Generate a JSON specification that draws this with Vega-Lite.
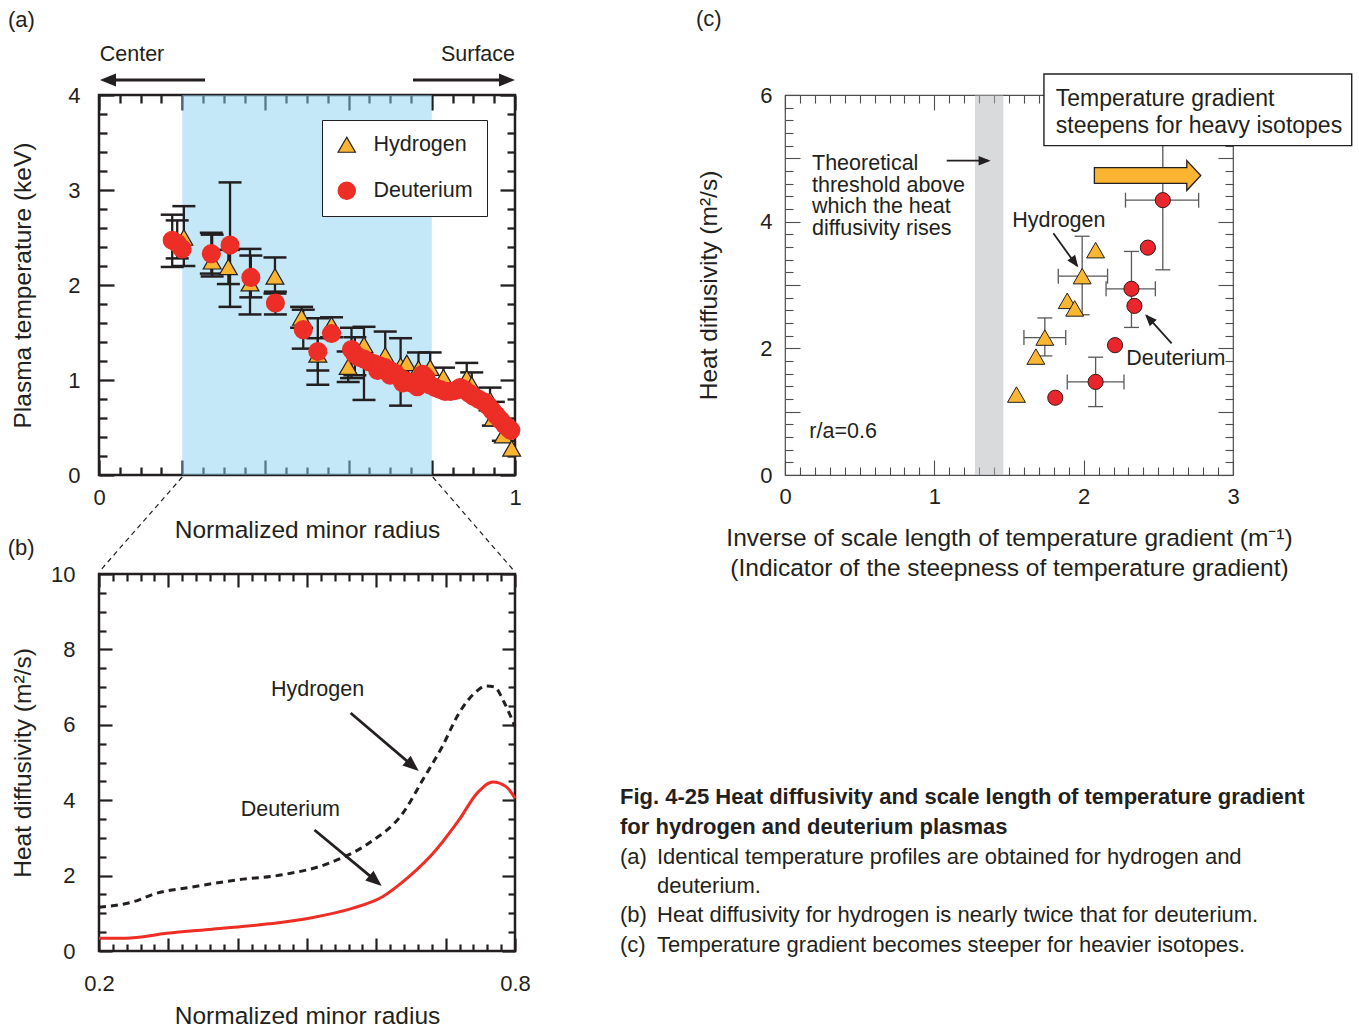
{
  "$schema": "https://vega.github.io/schema/vega-lite/v6.json",
  "background": "white",
  "padding": {"left": 6, "top": 7, "right": 4, "bottom": 2},
  "config": {
    "view": {"stroke": null},
    "font": "Liberation Sans",
    "axis": {"labelFont": "Liberation Sans", "titleFont": "Liberation Sans", "labelColor": "#231f20", "titleColor": "#231f20", "titleFontWeight": "normal", "grid": false, "domain": false, "labelFlush": false, "labelOverlap": false},
    "text": {"font": "Liberation Sans", "fill": "#231f20"}
  },
  "datasets": {
    "tempA": [
      {"species": "Hydrogen", "x": 0.204, "y": 2.50, "lo": 2.20, "hi": 2.83},
      {"species": "Hydrogen", "x": 0.272, "y": 2.25, "lo": 2.09, "hi": 2.53},
      {"species": "Hydrogen", "x": 0.311, "y": 2.19, "lo": 2.01, "hi": 2.37},
      {"species": "Hydrogen", "x": 0.363, "y": 2.02, "lo": 1.69, "hi": 2.38},
      {"species": "Hydrogen", "x": 0.423, "y": 2.09, "lo": 1.91, "hi": 2.29},
      {"species": "Hydrogen", "x": 0.487, "y": 1.66, "lo": 1.55, "hi": 1.77},
      {"species": "Hydrogen", "x": 0.526, "y": 1.27, "lo": 1.10, "hi": 1.44},
      {"species": "Hydrogen", "x": 0.559, "y": 1.58, "lo": 1.45, "hi": 1.66},
      {"species": "Hydrogen", "x": 0.599, "y": 1.14, "lo": 0.98, "hi": 1.30},
      {"species": "Hydrogen", "x": 0.637, "y": 1.37, "lo": 0.79, "hi": 1.56},
      {"species": "Hydrogen", "x": 0.688, "y": 1.26, "lo": 1.05, "hi": 1.51},
      {"species": "Hydrogen", "x": 0.725, "y": 1.15, "lo": 0.73, "hi": 1.44},
      {"species": "Hydrogen", "x": 0.740, "y": 1.18},
      {"species": "Hydrogen", "x": 0.768, "y": 1.12, "lo": 0.95, "hi": 1.29},
      {"species": "Hydrogen", "x": 0.796, "y": 1.13, "lo": 0.98, "hi": 1.29},
      {"species": "Hydrogen", "x": 0.828, "y": 1.03, "lo": 0.90, "hi": 1.13},
      {"species": "Hydrogen", "x": 0.884, "y": 1.02, "lo": 0.88, "hi": 1.18},
      {"species": "Hydrogen", "x": 0.896, "y": 0.95, "lo": 0.82, "hi": 1.08},
      {"species": "Hydrogen", "x": 0.940, "y": 0.79, "lo": 0.68, "hi": 0.92},
      {"species": "Hydrogen", "x": 0.948, "y": 0.60, "lo": 0.52, "hi": 0.77},
      {"species": "Hydrogen", "x": 0.972, "y": 0.42, "lo": 0.36, "hi": 0.55},
      {"species": "Hydrogen", "x": 0.992, "y": 0.28},
      {"species": "Deuterium", "x": 0.176, "y": 2.47, "lo": 2.19, "hi": 2.74},
      {"species": "Deuterium", "x": 0.188, "y": 2.44, "lo": 2.28, "hi": 2.68},
      {"species": "Deuterium", "x": 0.200, "y": 2.38},
      {"species": "Deuterium", "x": 0.270, "y": 2.33, "lo": 2.12, "hi": 2.55},
      {"species": "Deuterium", "x": 0.315, "y": 2.42, "lo": 1.77, "hi": 3.08},
      {"species": "Deuterium", "x": 0.365, "y": 2.08, "lo": 1.87, "hi": 2.31},
      {"species": "Deuterium", "x": 0.424, "y": 1.81, "lo": 1.69, "hi": 1.93},
      {"species": "Deuterium", "x": 0.491, "y": 1.53, "lo": 1.33, "hi": 1.74},
      {"species": "Deuterium", "x": 0.526, "y": 1.30, "lo": 0.95, "hi": 1.65},
      {"species": "Deuterium", "x": 0.559, "y": 1.49},
      {"species": "Deuterium", "x": 0.607, "y": 1.32, "lo": 1.02, "hi": 1.55},
      {"species": "Deuterium", "x": 0.615, "y": 1.27, "lo": 1.05, "hi": 1.45},
      {"species": "Deuterium", "x": 0.625, "y": 1.24},
      {"species": "Deuterium", "x": 0.637, "y": 1.22},
      {"species": "Deuterium", "x": 0.650, "y": 1.19},
      {"species": "Deuterium", "x": 0.662, "y": 1.17},
      {"species": "Deuterium", "x": 0.670, "y": 1.10},
      {"species": "Deuterium", "x": 0.675, "y": 1.15},
      {"species": "Deuterium", "x": 0.688, "y": 1.13},
      {"species": "Deuterium", "x": 0.700, "y": 1.05},
      {"species": "Deuterium", "x": 0.700, "y": 1.10},
      {"species": "Deuterium", "x": 0.712, "y": 1.07},
      {"species": "Deuterium", "x": 0.725, "y": 1.02},
      {"species": "Deuterium", "x": 0.730, "y": 0.97},
      {"species": "Deuterium", "x": 0.738, "y": 0.99},
      {"species": "Deuterium", "x": 0.750, "y": 0.97},
      {"species": "Deuterium", "x": 0.762, "y": 0.98},
      {"species": "Deuterium", "x": 0.765, "y": 0.93},
      {"species": "Deuterium", "x": 0.778, "y": 1.06},
      {"species": "Deuterium", "x": 0.785, "y": 1.03},
      {"species": "Deuterium", "x": 0.795, "y": 0.95},
      {"species": "Deuterium", "x": 0.808, "y": 0.92},
      {"species": "Deuterium", "x": 0.820, "y": 0.90},
      {"species": "Deuterium", "x": 0.832, "y": 0.88},
      {"species": "Deuterium", "x": 0.845, "y": 0.88},
      {"species": "Deuterium", "x": 0.857, "y": 0.89},
      {"species": "Deuterium", "x": 0.868, "y": 0.92},
      {"species": "Deuterium", "x": 0.878, "y": 0.90},
      {"species": "Deuterium", "x": 0.890, "y": 0.86},
      {"species": "Deuterium", "x": 0.900, "y": 0.83},
      {"species": "Deuterium", "x": 0.912, "y": 0.80},
      {"species": "Deuterium", "x": 0.924, "y": 0.77},
      {"species": "Deuterium", "x": 0.935, "y": 0.73},
      {"species": "Deuterium", "x": 0.945, "y": 0.68},
      {"species": "Deuterium", "x": 0.955, "y": 0.63},
      {"species": "Deuterium", "x": 0.965, "y": 0.58},
      {"species": "Deuterium", "x": 0.975, "y": 0.53},
      {"species": "Deuterium", "x": 0.985, "y": 0.49},
      {"species": "Deuterium", "x": 0.990, "y": 0.47}
    ],
    "diffB": [
      {"species": "Hydrogen", "x": 0.200, "y": 1.16},
      {"species": "Hydrogen", "x": 0.257, "y": 1.35},
      {"species": "Hydrogen", "x": 0.276, "y": 1.49},
      {"species": "Hydrogen", "x": 0.339, "y": 1.71},
      {"species": "Hydrogen", "x": 0.397, "y": 1.88},
      {"species": "Hydrogen", "x": 0.464, "y": 2.02},
      {"species": "Hydrogen", "x": 0.532, "y": 2.33},
      {"species": "Hydrogen", "x": 0.589, "y": 2.86},
      {"species": "Hydrogen", "x": 0.638, "y": 3.65},
      {"species": "Hydrogen", "x": 0.667, "y": 4.54},
      {"species": "Hydrogen", "x": 0.695, "y": 5.42},
      {"species": "Hydrogen", "x": 0.719, "y": 6.30},
      {"species": "Hydrogen", "x": 0.744, "y": 6.88},
      {"species": "Hydrogen", "x": 0.758, "y": 7.03},
      {"species": "Hydrogen", "x": 0.770, "y": 7.01},
      {"species": "Hydrogen", "x": 0.785, "y": 6.57},
      {"species": "Hydrogen", "x": 0.800, "y": 5.95},
      {"species": "Deuterium", "x": 0.200, "y": 0.34},
      {"species": "Deuterium", "x": 0.238, "y": 0.34},
      {"species": "Deuterium", "x": 0.298, "y": 0.47},
      {"species": "Deuterium", "x": 0.363, "y": 0.58},
      {"species": "Deuterium", "x": 0.445, "y": 0.72},
      {"species": "Deuterium", "x": 0.503, "y": 0.87},
      {"species": "Deuterium", "x": 0.565, "y": 1.13},
      {"species": "Deuterium", "x": 0.609, "y": 1.44},
      {"species": "Deuterium", "x": 0.647, "y": 1.97},
      {"species": "Deuterium", "x": 0.686, "y": 2.68},
      {"species": "Deuterium", "x": 0.719, "y": 3.47},
      {"species": "Deuterium", "x": 0.746, "y": 4.20},
      {"species": "Deuterium", "x": 0.768, "y": 4.48},
      {"species": "Deuterium", "x": 0.787, "y": 4.36},
      {"species": "Deuterium", "x": 0.800, "y": 4.05}
    ],
    "ptsC": [
      {"species": "Hydrogen", "x": 1.55, "y": 1.27},
      {"species": "Hydrogen", "x": 1.68, "y": 1.87},
      {"species": "Hydrogen", "x": 1.74, "y": 2.17, "xlo": 1.60, "xhi": 1.88, "ylo": 1.88, "yhi": 2.48},
      {"species": "Hydrogen", "x": 1.89, "y": 2.75},
      {"species": "Hydrogen", "x": 1.94, "y": 2.63},
      {"species": "Hydrogen", "x": 1.99, "y": 3.14, "xlo": 1.83, "xhi": 2.16, "ylo": 2.53, "yhi": 3.77},
      {"species": "Hydrogen", "x": 2.08, "y": 3.55},
      {"species": "Deuterium", "x": 1.81, "y": 1.22},
      {"species": "Deuterium", "x": 2.08, "y": 1.47, "xlo": 1.89, "xhi": 2.27, "ylo": 1.08, "yhi": 1.86},
      {"species": "Deuterium", "x": 2.21, "y": 2.05},
      {"species": "Deuterium", "x": 2.32, "y": 2.94, "xlo": 2.15, "xhi": 2.48, "ylo": 2.33, "yhi": 3.53},
      {"species": "Deuterium", "x": 2.34, "y": 2.67},
      {"species": "Deuterium", "x": 2.43, "y": 3.59},
      {"species": "Deuterium", "x": 2.53, "y": 4.34, "xlo": 2.28, "xhi": 2.77, "ylo": 3.24, "yhi": 5.3}
    ]
  },
  "columns": 2,
  "spacing": {"row": 99, "column": 270},
  "bounds": "flush",
  "concat": [
    {
      "width": 416, "height": 380,
      "view": {"stroke": "#231f20", "strokeWidth": 2.5},
      "resolve": {"axis": {"x": "independent", "y": "independent"}},
      "layer": [
        {
          "data": {"values": [{"x": 0.2, "x2": 0.8}]},
          "mark": {"type": "rect", "fill": "#8bd1f1", "opacity": 0.5},
          "encoding": {
            "x": {"field": "x", "type": "quantitative", "scale": {"domain": [0, 1], "nice": false, "zero": false}, "axis": null},
            "x2": {"field": "x2"}
          }
        },
        {
          "data": {"name": "tempA"},
          "transform": [{"filter": "isValid(datum.lo)"}],
          "mark": {"type": "rule", "stroke": "#231f20", "strokeWidth": 2.3},
          "encoding": {
            "x": {"field": "x", "type": "quantitative", "scale": {"domain": [0, 1], "nice": false, "zero": false},
              "axis": {"orient": "top", "values": [0,0.05,0.1,0.15,0.2,0.25,0.3,0.35,0.4,0.45,0.5,0.55,0.6,0.65,0.7,0.75,0.8,0.85,0.9,0.95,1], "labels": false, "title": null, "tickColor": "#231f20", "tickWidth": 2.3,
                "tickSize": {"condition": {"test": "abs(datum.value*5-round(datum.value*5))<0.001", "value": -15}, "value": -8}}},
            "y": {"field": "lo", "type": "quantitative", "scale": {"domain": [0, 4], "nice": false, "zero": false},
              "axis": {"orient": "right", "values": [0,0.2,0.4,0.6,0.8,1,1.2,1.4,1.6,1.8,2,2.2,2.4,2.6,2.8,3,3.2,3.4,3.6,3.8,4], "labels": false, "title": null, "tickColor": "#231f20", "tickWidth": 2.3,
                "tickSize": {"condition": {"test": "abs(datum.value-round(datum.value))<0.001", "value": -15}, "value": -8}}},
            "y2": {"field": "hi"}
          }
        },
        {
          "data": {"name": "tempA"},
          "transform": [{"filter": "isValid(datum.lo)"}],
          "mark": {"type": "tick", "orient": "horizontal", "size": 23, "thickness": 2.5, "color": "#231f20", "opacity": 1},
          "encoding": {
            "x": {"field": "x", "type": "quantitative", "scale": {"domain": [0, 1], "nice": false, "zero": false}, "axis": null},
            "y": {"field": "lo", "type": "quantitative", "scale": {"domain": [0, 4], "nice": false, "zero": false}, "axis": null}
          }
        },
        {
          "data": {"name": "tempA"},
          "transform": [{"filter": "isValid(datum.hi)"}],
          "mark": {"type": "tick", "orient": "horizontal", "size": 23, "thickness": 2.5, "color": "#231f20", "opacity": 1},
          "encoding": {
            "x": {"field": "x", "type": "quantitative", "scale": {"domain": [0, 1], "nice": false, "zero": false}, "axis": null},
            "y": {"field": "hi", "type": "quantitative", "scale": {"domain": [0, 4], "nice": false, "zero": false}, "axis": null}
          }
        },
        {
          "data": {"name": "tempA"},
          "mark": {"type": "point", "filled": true, "opacity": 1, "size": 320, "strokeWidth": 1.2},
          "encoding": {
            "x": {"field": "x", "type": "quantitative", "scale": {"domain": [0, 1], "nice": false, "zero": false},
              "axis": {"orient": "bottom", "values": [0,0.05,0.1,0.15,0.2,0.25,0.3,0.35,0.4,0.45,0.5,0.55,0.6,0.65,0.7,0.75,0.8,0.85,0.9,0.95,1], "tickColor": "#231f20", "tickWidth": 2.3,
                "tickSize": {"condition": {"test": "abs(datum.value*5-round(datum.value*5))<0.001", "value": -15}, "value": -8},
                "labelExpr": "datum.value==0?'0':(datum.value==1?'1':'')", "labelFontSize": 22, "labelPadding": 27,
                "title": "Normalized minor radius", "titleFontSize": 24.5, "titlePadding": 3}},
            "y": {"field": "y", "type": "quantitative", "scale": {"domain": [0, 4], "nice": false, "zero": false},
              "axis": {"orient": "left", "values": [0,0.2,0.4,0.6,0.8,1,1.2,1.4,1.6,1.8,2,2.2,2.4,2.6,2.8,3,3.2,3.4,3.6,3.8,4], "tickColor": "#231f20", "tickWidth": 2.3,
                "tickSize": {"condition": {"test": "abs(datum.value-round(datum.value))<0.001", "value": -15}, "value": -8},
                "labelExpr": "abs(datum.value-round(datum.value))<0.001?''+round(datum.value):''", "labelFontSize": 22, "labelPadding": 34,
                "title": "Plasma temperature (keV)", "titleFontSize": 24.5, "titlePadding": 32}},
            "shape": {"field": "species", "type": "nominal", "scale": {"domain": ["Hydrogen", "Deuterium"], "range": ["triangle-up", "circle"]},
              "legend": {"title": null, "orient": "none", "legendX": 223, "legendY": 25, "strokeColor": "#231f20", "fillColor": "white", "padding": 14, "rowPadding": 23, "labelFontSize": 21.5, "labelFont": "Liberation Sans", "labelColor": "#231f20", "symbolSize": 300, "labelOffset": 16, "symbolStrokeWidth": 1.2, "symbolOpacity": 1}},
            "fill": {"field": "species", "type": "nominal", "scale": {"domain": ["Hydrogen", "Deuterium"], "range": ["#fbb430", "#ec2e26"]},
              "legend": {"title": null, "orient": "none", "legendX": 223, "legendY": 25, "strokeColor": "#231f20", "fillColor": "white", "padding": 14, "rowPadding": 23, "labelFontSize": 21.5, "labelFont": "Liberation Sans", "labelColor": "#231f20", "symbolSize": 300, "labelOffset": 16, "symbolStrokeWidth": 1.2, "symbolOpacity": 1}},
            "stroke": {"field": "species", "type": "nominal", "scale": {"domain": ["Hydrogen", "Deuterium"], "range": ["#231f20", "#ec2e26"]},
              "legend": {"title": null, "orient": "none", "legendX": 223, "legendY": 25, "strokeColor": "#231f20", "fillColor": "white", "padding": 14, "rowPadding": 23, "labelFontSize": 21.5, "labelFont": "Liberation Sans", "labelColor": "#231f20", "symbolSize": 300, "labelOffset": 16, "symbolStrokeWidth": 1.2, "symbolOpacity": 1}}
          }
        },
        {
          "data": {"values": [{"x": 0.2548, "y": 4.158, "x2": 0.024, "y2": 4.158}, {"x": 0.7548, "y": 4.158, "x2": 0.978, "y2": 4.158}]},
          "mark": {"type": "rule", "strokeWidth": 2.8, "color": "#231f20"},
          "encoding": {
            "x": {"field": "x", "type": "quantitative", "scale": {"domain": [0, 1], "nice": false, "zero": false}, "axis": null},
            "y": {"field": "y", "type": "quantitative", "scale": {"domain": [0, 4], "nice": false, "zero": false}, "axis": null},
            "x2": {"field": "x2"}, "y2": {"field": "y2"}
          }
        },
        {
          "data": {"values": [{"x": 0.0024, "y": 4.158}]},
          "mark": {"type": "point", "shape": "M0,0L-0.8,2L0.8,2Z", "filled": true, "color": "#231f20", "opacity": 1, "size": 256, "angle": 270},
          "encoding": {
            "x": {"field": "x", "type": "quantitative", "scale": {"domain": [0, 1], "nice": false, "zero": false}, "axis": null},
            "y": {"field": "y", "type": "quantitative", "scale": {"domain": [0, 4], "nice": false, "zero": false}, "axis": null}
          }
        },
        {
          "data": {"values": [{"x": 1.0, "y": 4.158}]},
          "mark": {"type": "point", "shape": "M0,0L-0.8,2L0.8,2Z", "filled": true, "color": "#231f20", "opacity": 1, "size": 256, "angle": 90},
          "encoding": {
            "x": {"field": "x", "type": "quantitative", "scale": {"domain": [0, 1], "nice": false, "zero": false}, "axis": null},
            "y": {"field": "y", "type": "quantitative", "scale": {"domain": [0, 4], "nice": false, "zero": false}, "axis": null}
          }
        },
        {
          "data": {"values": [{"x": 0.0793, "y": 4.421, "t": "Center"}, {"x": 0.911, "y": 4.421, "t": "Surface"}]},
          "mark": {"type": "text", "align": "center", "baseline": "middle", "fontSize": 21.5, "fill": "#231f20"},
          "encoding": {
            "x": {"field": "x", "type": "quantitative", "scale": {"domain": [0, 1], "nice": false, "zero": false}, "axis": null},
            "y": {"field": "y", "type": "quantitative", "scale": {"domain": [0, 4], "nice": false, "zero": false}, "axis": null},
            "text": {"field": "t"}
          }
        },
        {
          "data": {"values": [{"x": -0.2188, "y": 4.789, "t": "(a)"}]},
          "mark": {"type": "text", "align": "left", "baseline": "middle", "fontSize": 22, "fill": "#231f20"},
          "encoding": {
            "x": {"field": "x", "type": "quantitative", "scale": {"domain": [0, 1], "nice": false, "zero": false}, "axis": null},
            "y": {"field": "y", "type": "quantitative", "scale": {"domain": [0, 4], "nice": false, "zero": false}, "axis": null},
            "text": {"field": "t"}
          }
        }
      ]
    },
    {
      "width": 448, "height": 380,
      "view": {"stroke": "#4d4d4f", "strokeWidth": 1.2},
      "resolve": {"axis": {"x": "independent", "y": "independent"}},
      "layer": [
        {
          "data": {"values": [{"x": 1.272, "x2": 1.462}]},
          "mark": {"type": "rect", "fill": "#b3b5b8", "opacity": 0.5},
          "encoding": {
            "x": {"field": "x", "type": "quantitative", "scale": {"domain": [0, 3], "nice": false, "zero": false}, "axis": null},
            "x2": {"field": "x2"}
          }
        },
        {
          "data": {"name": "ptsC"},
          "transform": [{"filter": "isValid(datum.ylo)"}],
          "mark": {"type": "rule", "stroke": "#58595b", "strokeWidth": 1.3},
          "encoding": {
            "x": {"field": "x", "type": "quantitative", "scale": {"domain": [0, 3], "nice": false, "zero": false}, "axis": null},
            "y": {"field": "ylo", "type": "quantitative", "scale": {"domain": [0, 6], "nice": false, "zero": false}, "axis": null},
            "y2": {"field": "yhi"}
          }
        },
        {
          "data": {"name": "ptsC"},
          "transform": [{"filter": "isValid(datum.xlo)"}],
          "mark": {"type": "rule", "stroke": "#58595b", "strokeWidth": 1.3},
          "encoding": {
            "x": {"field": "xlo", "type": "quantitative", "scale": {"domain": [0, 3], "nice": false, "zero": false}, "axis": null},
            "x2": {"field": "xhi"},
            "y": {"field": "y", "type": "quantitative", "scale": {"domain": [0, 6], "nice": false, "zero": false}, "axis": null}
          }
        },
        {
          "data": {"name": "ptsC"},
          "transform": [{"filter": "isValid(datum.ylo)"}, {"fold": ["ylo", "yhi"], "as": ["end", "yv"]}],
          "mark": {"type": "tick", "orient": "horizontal", "size": 15, "thickness": 1.3, "color": "#58595b", "opacity": 1},
          "encoding": {
            "x": {"field": "x", "type": "quantitative", "scale": {"domain": [0, 3], "nice": false, "zero": false}, "axis": null},
            "y": {"field": "yv", "type": "quantitative", "scale": {"domain": [0, 6], "nice": false, "zero": false}, "axis": null}
          }
        },
        {
          "data": {"name": "ptsC"},
          "transform": [{"filter": "isValid(datum.xlo)"}, {"fold": ["xlo", "xhi"], "as": ["end", "xv"]}],
          "mark": {"type": "tick", "orient": "vertical", "size": 15, "thickness": 1.3, "color": "#58595b", "opacity": 1},
          "encoding": {
            "x": {"field": "xv", "type": "quantitative", "scale": {"domain": [0, 3], "nice": false, "zero": false}, "axis": null},
            "y": {"field": "y", "type": "quantitative", "scale": {"domain": [0, 6], "nice": false, "zero": false}, "axis": null}
          }
        },
        {
          "data": {"name": "ptsC"},
          "transform": [{"filter": "datum.species == 'Hydrogen'"}],
          "mark": {"type": "point", "shape": "triangle-up", "filled": true, "fill": "#fbb632", "stroke": "#231f20", "strokeWidth": 1, "opacity": 1, "size": 320},
          "encoding": {
            "x": {"field": "x", "type": "quantitative", "scale": {"domain": [0, 3], "nice": false, "zero": false},
              "axis": {"orient": "bottom", "values": [0,0.1,0.2,0.3,0.4,0.5,0.6,0.7,0.8,0.9,1,1.1,1.2,1.3,1.4,1.5,1.6,1.7,1.8,1.9,2,2.1,2.2,2.3,2.4,2.5,2.6,2.7,2.8,2.9,3], "tickColor": "#4d4d4f", "tickWidth": 1.1,
                "tickSize": {"condition": {"test": "abs(datum.value-round(datum.value))<0.001", "value": -15}, "value": -8},
                "labelExpr": "abs(datum.value-round(datum.value))<0.001?''+round(datum.value):''", "labelFontSize": 22, "labelPadding": 26,
                "title": ["Inverse of scale length of temperature gradient (m⁻¹)", "(Indicator of the steepness of temperature gradient)"], "titleFontSize": 24.5, "titleLineHeight": 30, "titlePadding": 12}},
            "y": {"field": "y", "type": "quantitative", "scale": {"domain": [0, 6], "nice": false, "zero": false},
              "axis": {"orient": "left", "values": [0,0.2,0.4,0.6,0.8,1,1.2,1.4,1.6,1.8,2,2.2,2.4,2.6,2.8,3,3.2,3.4,3.6,3.8,4,4.2,4.4,4.6,4.8,5,5.2,5.4,5.6,5.8,6], "tickColor": "#4d4d4f", "tickWidth": 1.1,
                "tickSize": {"condition": {"test": "abs(datum.value-round(datum.value))<0.001", "value": -15}, "value": -8},
                "labelExpr": "abs(datum.value/2-round(datum.value/2))<0.001?''+round(datum.value):''", "labelFontSize": 22, "labelPadding": 28,
                "title": "Heat diffusivity (m²/s)", "titleFontSize": 24.5, "titlePadding": 38}}
          }
        },
        {
          "data": {"name": "ptsC"},
          "transform": [{"filter": "datum.species == 'Deuterium'"}],
          "mark": {"type": "point", "shape": "circle", "filled": true, "fill": "#e8262b", "stroke": "#3a1a1a", "strokeWidth": 1, "opacity": 1, "size": 230},
          "encoding": {
            "x": {"field": "x", "type": "quantitative", "scale": {"domain": [0, 3], "nice": false, "zero": false},
              "axis": {"orient": "top", "values": [0,0.1,0.2,0.3,0.4,0.5,0.6,0.7,0.8,0.9,1,1.1,1.2,1.3,1.4,1.5,1.6,1.7,1.8,1.9,2,2.1,2.2,2.3,2.4,2.5,2.6,2.7,2.8,2.9,3], "labels": false, "title": null, "tickColor": "#4d4d4f", "tickWidth": 1.1,
                "tickSize": {"condition": {"test": "abs(datum.value-round(datum.value))<0.001", "value": -15}, "value": -8}}},
            "y": {"field": "y", "type": "quantitative", "scale": {"domain": [0, 6], "nice": false, "zero": false},
              "axis": {"orient": "right", "values": [0,0.2,0.4,0.6,0.8,1,1.2,1.4,1.6,1.8,2,2.2,2.4,2.6,2.8,3,3.2,3.4,3.6,3.8,4,4.2,4.4,4.6,4.8,5,5.2,5.4,5.6,5.8,6], "labels": false, "title": null, "tickColor": "#4d4d4f", "tickWidth": 1.1,
                "tickSize": {"condition": {"test": "abs(datum.value-round(datum.value))<0.001", "value": -15}, "value": -8}}}
          }
        },
        {
          "data": {"values": [{"x": 2.428, "y": 4.728}]},
          "mark": {"type": "point", "shape": "M-1,-0.148L0.737,-0.148L0.737,-0.282L1,0L0.737,0.282L0.737,0.148L-1,0.148Z", "filled": true, "fill": "#fbb431", "stroke": "#231f20", "strokeWidth": 1.3, "opacity": 1, "size": 11321},
          "encoding": {
            "x": {"field": "x", "type": "quantitative", "scale": {"domain": [0, 3], "nice": false, "zero": false}, "axis": null},
            "y": {"field": "y", "type": "quantitative", "scale": {"domain": [0, 6], "nice": false, "zero": false}, "axis": null}
          }
        },
        {
          "data": {"values": [{"x": 1.734, "x2": 3.795, "y": 5.2, "y2": 6.332}]},
          "mark": {"type": "rect", "fill": "white", "stroke": "#231f20", "strokeWidth": 1.4},
          "encoding": {
            "x": {"field": "x", "type": "quantitative", "scale": {"domain": [0, 3], "nice": false, "zero": false}, "axis": null},
            "x2": {"field": "x2"},
            "y": {"field": "y", "type": "quantitative", "scale": {"domain": [0, 6], "nice": false, "zero": false}, "axis": null},
            "y2": {"field": "y2"}
          }
        },
        {
          "data": {"values": [{"x": 1.813, "y": 5.937, "t": "Temperature gradient"}, {"x": 1.813, "y": 5.516, "t": "steepens for heavy isotopes"}]},
          "mark": {"type": "text", "align": "left", "baseline": "middle", "fontSize": 23, "fill": "#231f20"},
          "encoding": {
            "x": {"field": "x", "type": "quantitative", "scale": {"domain": [0, 3], "nice": false, "zero": false}, "axis": null},
            "y": {"field": "y", "type": "quantitative", "scale": {"domain": [0, 6], "nice": false, "zero": false}, "axis": null},
            "text": {"field": "t"}
          }
        },
        {
          "data": {"values": [
            {"x": 0.181, "y": 4.911, "t": "Theoretical"},
            {"x": 0.181, "y": 4.568, "t": "threshold above"},
            {"x": 0.181, "y": 4.227, "t": "which the heat"},
            {"x": 0.181, "y": 3.884, "t": "diffusivity rises"},
            {"x": 0.163, "y": 0.684, "t": "r/a=0.6"}
          ]},
          "mark": {"type": "text", "align": "left", "baseline": "middle", "fontSize": 21.5, "fill": "#231f20"},
          "encoding": {
            "x": {"field": "x", "type": "quantitative", "scale": {"domain": [0, 3], "nice": false, "zero": false}, "axis": null},
            "y": {"field": "y", "type": "quantitative", "scale": {"domain": [0, 6], "nice": false, "zero": false}, "axis": null},
            "text": {"field": "t"}
          }
        },
        {
          "data": {"values": [{"x": -0.596, "y": 7.2, "t": "(c)"}]},
          "mark": {"type": "text", "align": "left", "baseline": "middle", "fontSize": 22, "fill": "#231f20"},
          "encoding": {
            "x": {"field": "x", "type": "quantitative", "scale": {"domain": [0, 3], "nice": false, "zero": false}, "axis": null},
            "y": {"field": "y", "type": "quantitative", "scale": {"domain": [0, 6], "nice": false, "zero": false}, "axis": null},
            "text": {"field": "t"}
          }
        },
        {
          "data": {"values": [{"x": 1.834, "y": 4.016, "t": "Hydrogen"}, {"x": 2.617, "y": 1.832, "t": "Deuterium"}]},
          "mark": {"type": "text", "align": "center", "baseline": "middle", "fontSize": 21.5, "fill": "#231f20"},
          "encoding": {
            "x": {"field": "x", "type": "quantitative", "scale": {"domain": [0, 3], "nice": false, "zero": false}, "axis": null},
            "y": {"field": "y", "type": "quantitative", "scale": {"domain": [0, 6], "nice": false, "zero": false}, "axis": null},
            "text": {"field": "t"}
          }
        },
        {
          "data": {"values": [
            {"x": 1.083, "y": 4.963, "x2": 1.36, "y2": 4.963},
            {"x": 1.797, "y": 3.816, "x2": 1.955, "y2": 3.30},
            {"x": 2.589, "y": 2.079, "x2": 2.42, "y2": 2.52}
          ]},
          "mark": {"type": "rule", "strokeWidth": 1.8, "color": "#231f20"},
          "encoding": {
            "x": {"field": "x", "type": "quantitative", "scale": {"domain": [0, 3], "nice": false, "zero": false}, "axis": null},
            "y": {"field": "y", "type": "quantitative", "scale": {"domain": [0, 6], "nice": false, "zero": false}, "axis": null},
            "x2": {"field": "x2"}, "y2": {"field": "y2"}
          }
        },
        {
          "data": {"values": [{"x": 1.377, "y": 4.963}]},
          "mark": {"type": "point", "shape": "M0,0L-0.8,2L0.8,2Z", "filled": true, "color": "#231f20", "opacity": 1, "size": 144, "angle": 90},
          "encoding": {
            "x": {"field": "x", "type": "quantitative", "scale": {"domain": [0, 3], "nice": false, "zero": false}, "axis": null},
            "y": {"field": "y", "type": "quantitative", "scale": {"domain": [0, 6], "nice": false, "zero": false}, "axis": null}
          }
        },
        {
          "data": {"values": [{"x": 1.964, "y": 3.280}]},
          "mark": {"type": "point", "shape": "M0,0L-0.8,2L0.8,2Z", "filled": true, "color": "#231f20", "opacity": 1, "size": 144, "angle": 144},
          "encoding": {
            "x": {"field": "x", "type": "quantitative", "scale": {"domain": [0, 3], "nice": false, "zero": false}, "axis": null},
            "y": {"field": "y", "type": "quantitative", "scale": {"domain": [0, 6], "nice": false, "zero": false}, "axis": null}
          }
        },
        {
          "data": {"values": [{"x": 2.411, "y": 2.537}]},
          "mark": {"type": "point", "shape": "M0,0L-0.8,2L0.8,2Z", "filled": true, "color": "#231f20", "opacity": 1, "size": 144, "angle": 317},
          "encoding": {
            "x": {"field": "x", "type": "quantitative", "scale": {"domain": [0, 3], "nice": false, "zero": false}, "axis": null},
            "y": {"field": "y", "type": "quantitative", "scale": {"domain": [0, 6], "nice": false, "zero": false}, "axis": null}
          }
        }
      ]
    },
    {
      "width": 416, "height": 377,
      "view": {"stroke": "#231f20", "strokeWidth": 2.5},
      "resolve": {"axis": {"x": "independent", "y": "independent"}},
      "layer": [
        {
          "data": {"name": "diffB"},
          "transform": [{"filter": "datum.species == 'Hydrogen'"}],
          "mark": {"type": "line", "interpolate": "monotone", "stroke": "#231f20", "strokeWidth": 3, "strokeDash": [7, 5]},
          "encoding": {
            "x": {"field": "x", "type": "quantitative", "scale": {"domain": [0.2, 0.8], "nice": false, "zero": false},
              "axis": {"orient": "bottom", "values": [0.2,0.22,0.24,0.26,0.28,0.3,0.32,0.34,0.36,0.38,0.4,0.42,0.44,0.46,0.48,0.5,0.52,0.54,0.56,0.58,0.6,0.62,0.64,0.66,0.68,0.7,0.72,0.74,0.76,0.78,0.8], "tickColor": "#231f20", "tickWidth": 2.2,
                "tickSize": {"condition": {"test": "abs(datum.value*10-round(datum.value*10))<0.001", "value": -13}, "value": -7},
                "labelExpr": "abs(datum.value-0.2)<0.001?'0.2':(abs(datum.value-0.8)<0.001?'0.8':'')", "labelFontSize": 22, "labelPadding": 35,
                "title": "Normalized minor radius", "titleFontSize": 24.5, "titlePadding": 4}},
            "y": {"field": "y", "type": "quantitative", "scale": {"domain": [0, 10], "nice": false, "zero": false},
              "axis": {"orient": "left", "values": [0,0.5,1,1.5,2,2.5,3,3.5,4,4.5,5,5.5,6,6.5,7,7.5,8,8.5,9,9.5,10], "tickColor": "#231f20", "tickWidth": 2.2,
                "tickSize": {"condition": {"test": "abs(datum.value/2-round(datum.value/2))<0.001", "value": -13}, "value": -7},
                "labelExpr": "abs(datum.value/2-round(datum.value/2))<0.001?''+round(datum.value):''", "labelFontSize": 22, "labelPadding": 37,
                "title": "Heat diffusivity (m²/s)", "titleFontSize": 24.5, "titlePadding": 15}}
          }
        },
        {
          "data": {"name": "diffB"},
          "transform": [{"filter": "datum.species == 'Deuterium'"}],
          "mark": {"type": "line", "interpolate": "monotone", "stroke": "#ee2d24", "strokeWidth": 3},
          "encoding": {
            "x": {"field": "x", "type": "quantitative", "scale": {"domain": [0.2, 0.8], "nice": false, "zero": false},
              "axis": {"orient": "top", "values": [0.2,0.22,0.24,0.26,0.28,0.3,0.32,0.34,0.36,0.38,0.4,0.42,0.44,0.46,0.48,0.5,0.52,0.54,0.56,0.58,0.6,0.62,0.64,0.66,0.68,0.7,0.72,0.74,0.76,0.78,0.8], "labels": false, "title": null, "tickColor": "#231f20", "tickWidth": 2.2,
                "tickSize": {"condition": {"test": "abs(datum.value*10-round(datum.value*10))<0.001", "value": -13}, "value": -7}}},
            "y": {"field": "y", "type": "quantitative", "scale": {"domain": [0, 10], "nice": false, "zero": false},
              "axis": {"orient": "right", "values": [0,0.5,1,1.5,2,2.5,3,3.5,4,4.5,5,5.5,6,6.5,7,7.5,8,8.5,9,9.5,10], "labels": false, "title": null, "tickColor": "#231f20", "tickWidth": 2.2,
                "tickSize": {"condition": {"test": "abs(datum.value/2-round(datum.value/2))<0.001", "value": -13}, "value": -7}}}
          }
        },
        {
          "data": {"values": [{"x": 0.5152, "y": 6.923, "t": "Hydrogen"}, {"x": 0.4761, "y": 3.740, "t": "Deuterium"}]},
          "mark": {"type": "text", "align": "center", "baseline": "middle", "fontSize": 21.5, "fill": "#231f20"},
          "encoding": {
            "x": {"field": "x", "type": "quantitative", "scale": {"domain": [0.2, 0.8], "nice": false, "zero": false}, "axis": null},
            "y": {"field": "y", "type": "quantitative", "scale": {"domain": [0, 10], "nice": false, "zero": false}, "axis": null},
            "text": {"field": "t"}
          }
        },
        {
          "data": {"values": [{"x": 0.0684, "y": 10.69, "t": "(b)"}]},
          "mark": {"type": "text", "align": "left", "baseline": "middle", "fontSize": 22, "fill": "#231f20"},
          "encoding": {
            "x": {"field": "x", "type": "quantitative", "scale": {"domain": [0.2, 0.8], "nice": false, "zero": false}, "axis": null},
            "y": {"field": "y", "type": "quantitative", "scale": {"domain": [0, 10], "nice": false, "zero": false}, "axis": null},
            "text": {"field": "t"}
          }
        },
        {
          "data": {"values": [{"x": 0.5629, "y": 6.313, "x2": 0.655, "y2": 4.87}, {"x": 0.5108, "y": 3.210, "x2": 0.602, "y2": 1.82}]},
          "mark": {"type": "rule", "strokeWidth": 2.8, "color": "#231f20"},
          "encoding": {
            "x": {"field": "x", "type": "quantitative", "scale": {"domain": [0.2, 0.8], "nice": false, "zero": false}, "axis": null},
            "y": {"field": "y", "type": "quantitative", "scale": {"domain": [0, 10], "nice": false, "zero": false}, "axis": null},
            "x2": {"field": "x2"}, "y2": {"field": "y2"}
          }
        },
        {
          "data": {"values": [{"x": 0.6612, "y": 4.775}, {"x": 0.6077, "y": 1.724}]},
          "mark": {"type": "point", "shape": "M0,0L-0.8,2L0.8,2Z", "filled": true, "color": "#231f20", "opacity": 1, "size": 256, "angle": 130},
          "encoding": {
            "x": {"field": "x", "type": "quantitative", "scale": {"domain": [0.2, 0.8], "nice": false, "zero": false}, "axis": null},
            "y": {"field": "y", "type": "quantitative", "scale": {"domain": [0, 10], "nice": false, "zero": false}, "axis": null}
          }
        },
        {
          "data": {"values": [{"x": 0.32, "y": 12.573, "x2": 0.2, "y2": 10.053}, {"x": 0.6814, "y": 12.573, "x2": 0.8, "y2": 10.053}]},
          "mark": {"type": "rule", "strokeWidth": 1.2, "strokeDash": [5, 4], "color": "#231f20"},
          "encoding": {
            "x": {"field": "x", "type": "quantitative", "scale": {"domain": [0.2, 0.8], "nice": false, "zero": false}, "axis": null},
            "y": {"field": "y", "type": "quantitative", "scale": {"domain": [0, 10], "nice": false, "zero": false}, "axis": null},
            "x2": {"field": "x2"}, "y2": {"field": "y2"}
          }
        }
      ]
    },
    {
      "width": 448, "height": 377,
      "view": {"stroke": null},
      "layer": [
        {
          "data": {"values": [
            {"x": -0.3683, "y": 0.4085, "t": "Fig. 4-25  Heat diffusivity and scale length of temperature gradient"},
            {"x": -0.3683, "y": 0.3289, "t": "for hydrogen and deuterium plasmas"}
          ]},
          "mark": {"type": "text", "align": "left", "baseline": "middle", "font": "Liberation Sans", "fontWeight": "bold", "fontSize": 22, "fill": "#231f20"},
          "encoding": {
            "x": {"field": "x", "type": "quantitative", "scale": {"domain": [0, 1], "nice": false, "zero": false}, "axis": null},
            "y": {"field": "y", "type": "quantitative", "scale": {"domain": [0, 1], "nice": false, "zero": false}, "axis": null},
            "text": {"field": "t"}
          }
        },
        {
          "data": {"values": [
            {"x": -0.3683, "y": 0.2493, "t": "(a)"},
            {"x": -0.2857, "y": 0.2493, "t": "Identical temperature profiles are obtained for hydrogen and"},
            {"x": -0.2857, "y": 0.1724, "t": "deuterium."},
            {"x": -0.3683, "y": 0.0955, "t": "(b)"},
            {"x": -0.2857, "y": 0.0955, "t": "Heat diffusivity for hydrogen is nearly twice that for deuterium."},
            {"x": -0.3683, "y": 0.0159, "t": "(c)"},
            {"x": -0.2857, "y": 0.0159, "t": "Temperature gradient becomes steeper for heavier isotopes."}
          ]},
          "mark": {"type": "text", "align": "left", "baseline": "middle", "font": "Liberation Sans", "fontSize": 22, "fill": "#231f20"},
          "encoding": {
            "x": {"field": "x", "type": "quantitative", "scale": {"domain": [0, 1], "nice": false, "zero": false}, "axis": null},
            "y": {"field": "y", "type": "quantitative", "scale": {"domain": [0, 1], "nice": false, "zero": false}, "axis": null},
            "text": {"field": "t"}
          }
        }
      ]
    }
  ]
}
